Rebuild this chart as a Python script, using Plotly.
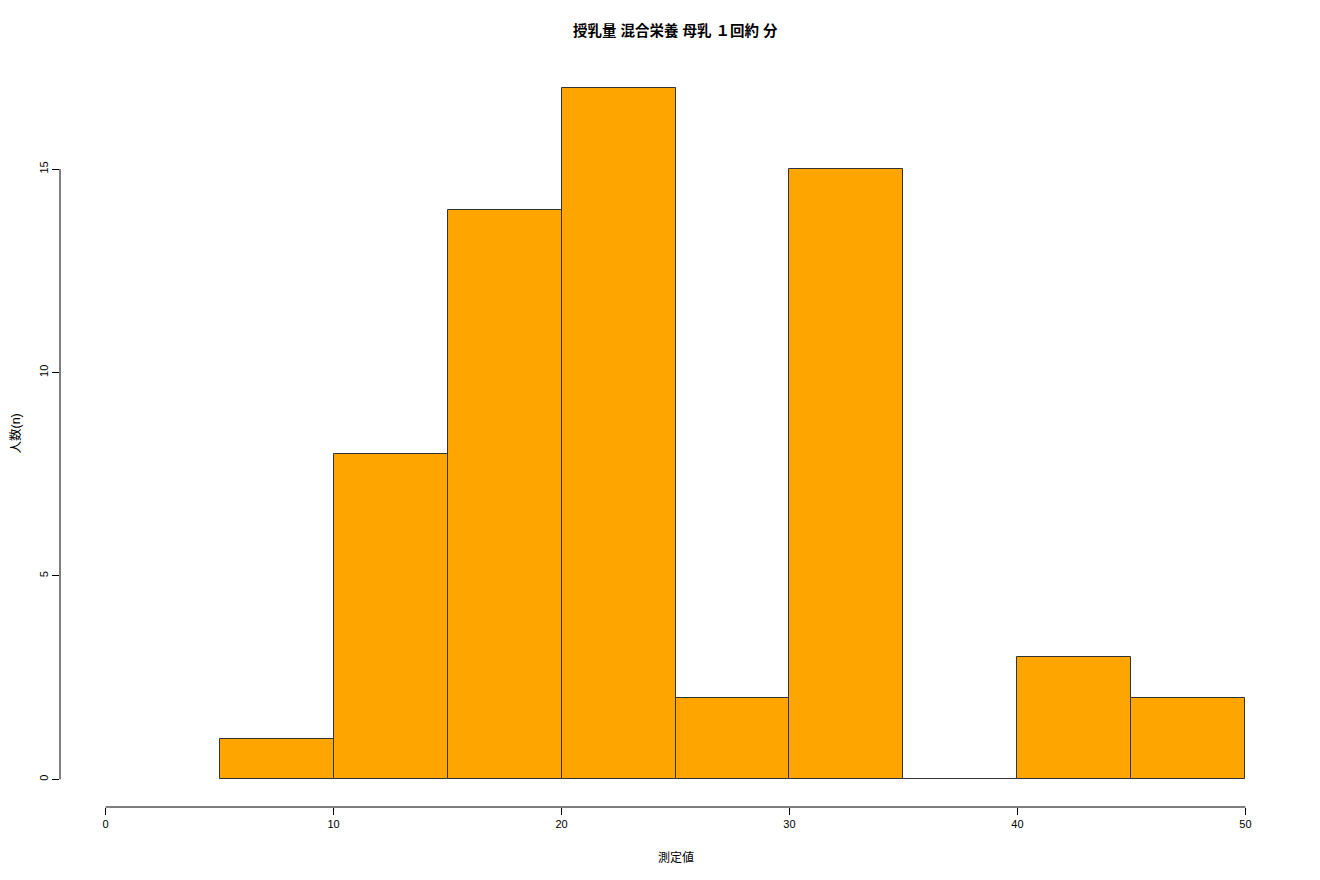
import plotly.graph_objects as go

bin_edges = [5, 10, 15, 20, 25, 30, 35, 40, 45, 50]
counts = [1, 8, 14, 17, 2, 15, 0, 3, 2]
x_ticks = [0, 10, 20, 30, 40, 50]
y_ticks = [0, 5, 10, 15]
title = "授乳量 混合栄養 母乳 １回約 分"
x_label = "測定値"
y_label = "人数(n)"

centers = [(a + b) / 2 for a, b in zip(bin_edges[:-1], bin_edges[1:])]
widths = [b - a for a, b in zip(bin_edges[:-1], bin_edges[1:])]

FONT = "Liberation Sans, Arial, Noto Sans CJK JP, sans-serif"

fig = go.Figure()
fig.add_trace(go.Bar(
    x=centers, y=counts, width=widths,
    marker=dict(color="#FFA500", line=dict(color="#333333", width=1)),
    hoverinfo="skip",
))

fig.update_layout(
    width=1320, height=880,
    paper_bgcolor="white", plot_bgcolor="white",
    margin=dict(l=52, r=37, t=52, b=81),
    showlegend=False,
    font=dict(family=FONT, color="black", size=11),
    bargap=0,
)
fig.update_xaxes(
    range=[-2, 52], tickvals=x_ticks, ticks="outside", ticklen=7,
    tickwidth=1, tickcolor="black", showgrid=False, zeroline=False,
    showline=False, tickfont=dict(size=11, family=FONT, color="black"),
)
fig.update_yaxes(
    range=[-0.68, 17.68], tickvals=y_ticks, ticks="outside", ticklen=7,
    tickwidth=1, tickcolor="black", showgrid=False, zeroline=False,
    showline=False, tickangle=-90, tickfont=dict(size=11, family=FONT, color="black"),
)
# axis lines spanning only the tick range (R style)
fig.add_shape(type="line", xref="x", yref="paper", x0=x_ticks[0], x1=x_ticks[-1],
              y0=0, y1=0, line=dict(color="black", width=1))
fig.add_shape(type="line", xref="paper", yref="y", x0=0, x1=0,
              y0=y_ticks[0], y1=y_ticks[-1], line=dict(color="black", width=1))

fig.add_annotation(text=f"<b>{title}</b>", xref="paper", yref="paper", x=0.5, y=1,
                   yshift=29, yanchor="middle", showarrow=False,
                   font=dict(size=14.5, family=FONT, color="black"))
fig.add_annotation(text=x_label, xref="paper", yref="paper", x=0.5, y=0,
                   yshift=-50, yanchor="middle", showarrow=False,
                   font=dict(size=12, family=FONT, color="black"))
fig.add_annotation(text=y_label, xref="paper", yref="paper", x=0, y=0.5,
                   xshift=-45, xanchor="center", textangle=-90, showarrow=False,
                   font=dict(size=12.5, family=FONT, color="black"))

fig.write_html("out.html")
